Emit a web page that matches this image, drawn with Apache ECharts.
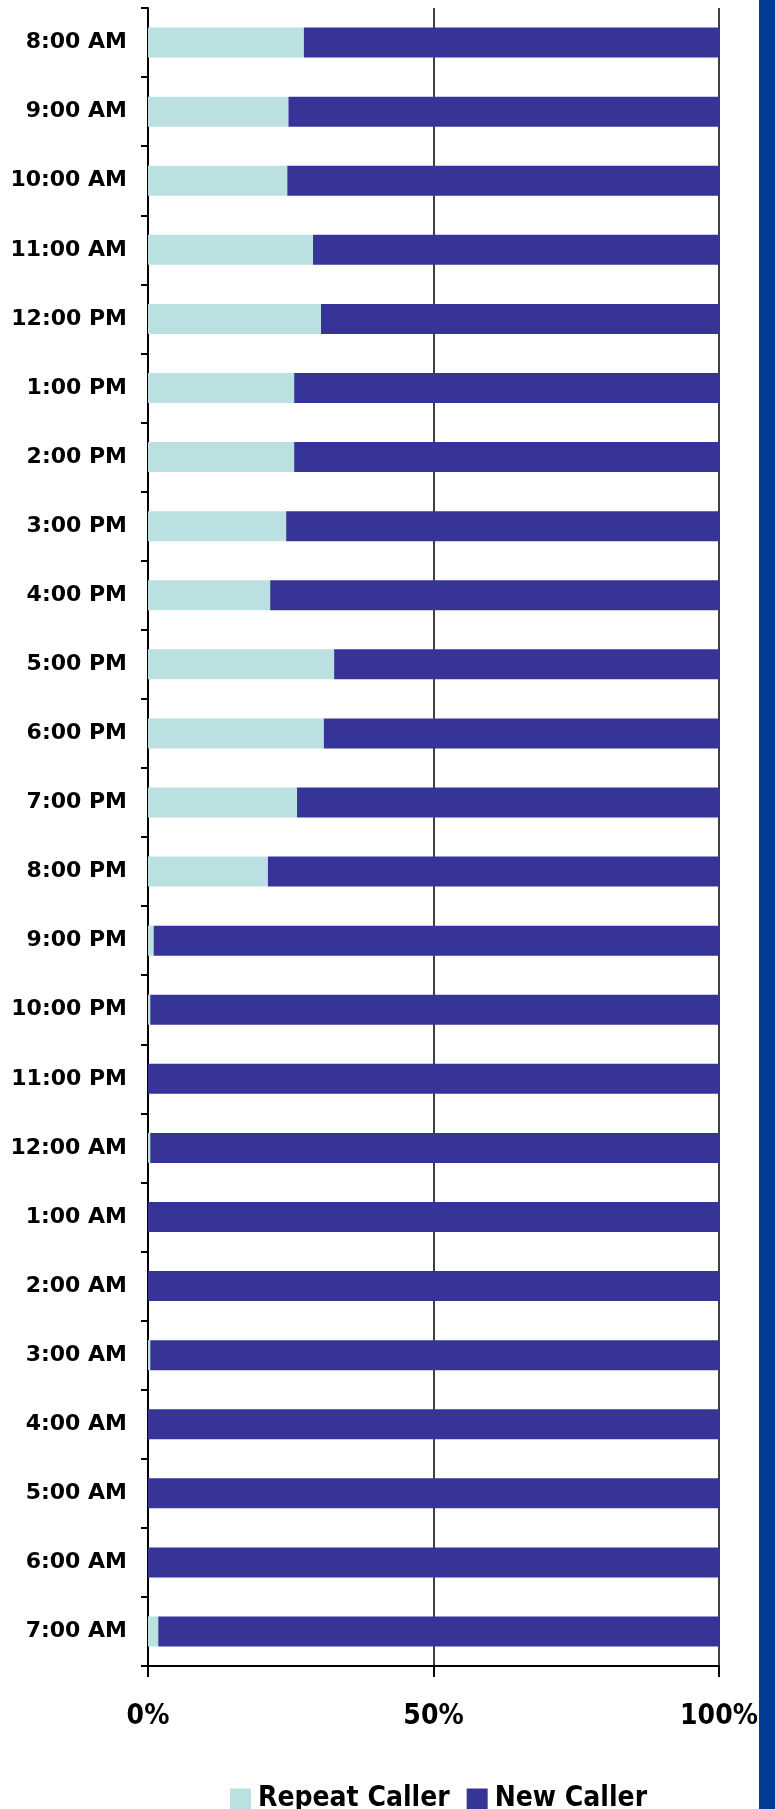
<!DOCTYPE html>
<html>
<head>
<meta charset="utf-8">
<script src="https://cdn.jsdelivr.net/npm/echarts@6/dist/echarts.min.js"></script>
<style>
  html, body { margin: 0; padding: 0; background: #ffffff; }
  #chart { width: 775px; height: 1809px; }
</style>
</head>
<body>
<div id="chart"></div>
<script>
// Hour-of-day buckets, top to bottom
const hours = ['8:00 AM', '9:00 AM', '10:00 AM', '11:00 AM', '12:00 PM', '1:00 PM', '2:00 PM',
  '3:00 PM', '4:00 PM', '5:00 PM', '6:00 PM', '7:00 PM', '8:00 PM', '9:00 PM', '10:00 PM',
  '11:00 PM', '12:00 AM', '1:00 AM', '2:00 AM', '3:00 AM', '4:00 AM', '5:00 AM', '6:00 AM', '7:00 AM'];

// Share of calls (%) per hour
const repeatCaller = [27.3, 24.6, 24.4, 28.9, 30.3, 25.6, 25.6, 24.2, 21.4, 32.6, 30.8, 26.1,
  21.0, 1.0, 0.4, 0, 0.4, 0, 0, 0.4, 0, 0, 0, 1.8];
const newCaller = [72.7, 75.4, 75.6, 71.1, 69.7, 74.4, 74.4, 75.8, 78.6, 67.4, 69.2, 73.9,
  79.0, 99.0, 99.6, 100, 99.6, 100, 100, 99.6, 100, 100, 100, 98.2];

const percentTicks = [0, 50, 100];

const FONT = '"DejaVu Sans", sans-serif';
const FONT_NARROW = '"DejaVu Sans Condensed", "DejaVu Sans", sans-serif';
const chart = echarts.init(document.getElementById('chart'), null, { renderer: 'canvas' });

chart.setOption({
  animation: false,
  backgroundColor: '#ffffff',
  grid: { left: 148, right: 56, top: 8, bottom: 143, containLabel: false },
  legend: {
    left: 225,
    top: 1780,
    itemWidth: 21,
    itemHeight: 21,
    itemGap: 17,
    icon: 'rect',
    textStyle: { fontFamily: FONT_NARROW, fontWeight: 'bold', fontSize: 28, color: '#000000', padding: [0, 0, 0, 2] },
    data: ['Repeat Caller', 'New Caller']
  },
  xAxis: {
    type: 'value',
    min: percentTicks[0],
    max: percentTicks[percentTicks.length - 1],
    interval: percentTicks[1] - percentTicks[0],
    axisLine: { show: true, lineStyle: { color: '#000000', width: 2 } },
    axisTick: { show: true, length: 11, lineStyle: { color: '#000000', width: 2 } },
    splitLine: { show: true, lineStyle: { color: '#000000', width: 1.5 } },
    axisLabel: {
      formatter: '{value}%',
      margin: 37,
      fontFamily: FONT_NARROW,
      fontWeight: 'bold',
      fontSize: 28,
      color: '#000000'
    }
  },
  yAxis: {
    type: 'category',
    inverse: true,
    data: hours,
    axisLine: { show: true, lineStyle: { color: '#000000', width: 2 } },
    axisTick: { show: true, length: 7, lineStyle: { color: '#000000', width: 2 } },
    axisLabel: {
      margin: 21,
      fontFamily: FONT,
      fontWeight: 'bold',
      fontSize: 22,
      color: '#000000'
    }
  },
  series: [
    {
      name: 'Repeat Caller',
      type: 'bar',
      stack: 'calls',
      barWidth: 30,
      itemStyle: { color: '#bae0e2' },
      data: repeatCaller
    },
    {
      name: 'New Caller',
      type: 'bar',
      stack: 'calls',
      barWidth: 30,
      itemStyle: { color: '#363497' },
      data: newCaller
    }
  ],
  graphic: [
    {
      type: 'rect',
      right: 0,
      top: 0,
      shape: { width: 16, height: 1809 },
      style: { fill: '#003c96' },
      silent: true
    }
  ]
});
</script>
</body>
</html>
